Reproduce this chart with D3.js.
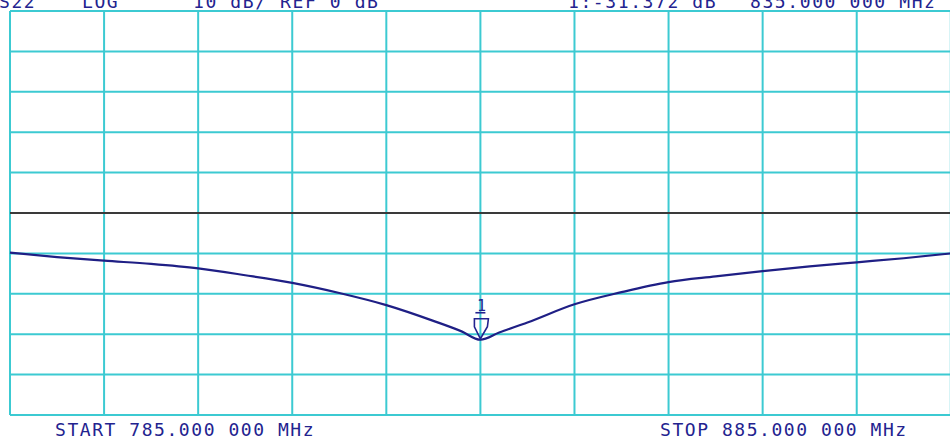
<!DOCTYPE html>
<html>
<head>
<meta charset="utf-8">
<script src="https://cdn.jsdelivr.net/npm/d3@7"></script>
<style>
  html, body { margin: 0; padding: 0; background: #fff; overflow: hidden; }
  svg { display: block; }
  text { font-family: "DejaVu Sans Mono", monospace; fill: #23238f; }
</style>
</head>
<body>
<svg id="chart" width="950" height="439"></svg>
<script>
// ---- data ----
const freqMHz = [785, 790, 795, 800, 805, 810, 815, 820, 825, 830, 833, 835, 837, 840, 845, 850, 855, 860, 865, 870, 875, 880, 885];
const s22dB   = [-9.8, -10.9, -11.8, -12.6, -13.7, -15.4, -17.3, -19.8, -22.8, -26.7, -29.3, -31.372, -29.6, -27.1, -22.6, -19.6, -17.1, -15.7, -14.4, -13.2, -12.2, -11.2, -10.0];
const refLevel = 0;
const markerFreq = 835;
const markerValue = -31.372;
const headerLabels = ["S22", "LOG", "10 dB/ REF 0 dB", "1:-31.372 dB", "835.000 000 MHz"];
const footerLabels = ["START 785.000 000 MHz", "STOP 885.000 000 MHz"];
const xDomain = [785, 885];
const yDomain = [-50, 50];

// ---- layout ----
const svg = d3.select("#chart");
const pL = 10, pR = 950.8, pT = 11, pB = 415;
const x = d3.scaleLinear().domain(xDomain).range([pL, pR]);
const y = d3.scaleLinear().domain(yDomain).range([pB, pT]);

const gridColor = "#3ccad2";

// grid
const xt = d3.range(xDomain[0], xDomain[1] + 0.001, 10);
const yt = d3.range(yDomain[0], yDomain[1] + 0.001, 10);
const g = svg.append("g");
g.selectAll("line.v").data(xt).enter().append("line")
  .attr("x1", d => x(d)).attr("x2", d => x(d))
  .attr("y1", pT).attr("y2", pB)
  .attr("stroke", gridColor).attr("stroke-width", 2);
g.selectAll("line.h").data(yt).enter().append("line")
  .attr("x1", pL).attr("x2", pR)
  .attr("y1", d => y(d)).attr("y2", d => y(d))
  .attr("stroke", gridColor).attr("stroke-width", 2);

// reference line
svg.append("line")
  .attr("x1", pL).attr("x2", pR)
  .attr("y1", y(refLevel)).attr("y2", y(refLevel))
  .attr("stroke", "#3a3a3a").attr("stroke-width", 2);

// trace
const line = d3.line().x((d, i) => x(freqMHz[i])).y(d => y(d)).curve(d3.curveMonotoneX);
svg.append("path")
  .attr("d", line(s22dB))
  .attr("fill", "none")
  .attr("stroke", "#1f1f85")
  .attr("stroke-width", 2.2);

// marker
const mx = x(markerFreq), my = y(markerValue);
svg.append("path")
  .attr("d", `M${mx-6},${my-21} L${mx+8},${my-21} L${mx+7},${my-13} L${mx},${my-1} L${mx-6},${my-13} Z`)
  .attr("fill", "none").attr("stroke", "#23238f").attr("stroke-width", 1.6);
svg.append("text").attr("x", mx + 1).attr("y", my - 28.5)
  .attr("text-anchor", "middle").style("font-size", "15px").text("1");
svg.append("line").attr("x1", mx - 5).attr("x2", mx + 5)
  .attr("y1", my - 27).attr("y2", my - 27)
  .attr("stroke", "#23238f").attr("stroke-width", 1.6);

// header text (clipped at top like the reference)
const hx = [-1, 82, 193, 568, 750];
svg.selectAll("text.hdr").data(headerLabels).enter().append("text")
  .attr("class", "hdr")
  .attr("x", (d, i) => hx[i]).attr("y", 7.5)
  .style("font-size", "18px").style("letter-spacing", "1.6px")
  .text(d => d);

// footer text
const fx = [55, 660];
svg.selectAll("text.ftr").data(footerLabels).enter().append("text")
  .attr("class", "ftr")
  .attr("x", (d, i) => fx[i]).attr("y", 436)
  .style("font-size", "18px").style("letter-spacing", "1.55px")
  .text(d => d);
</script>
</body>
</html>
